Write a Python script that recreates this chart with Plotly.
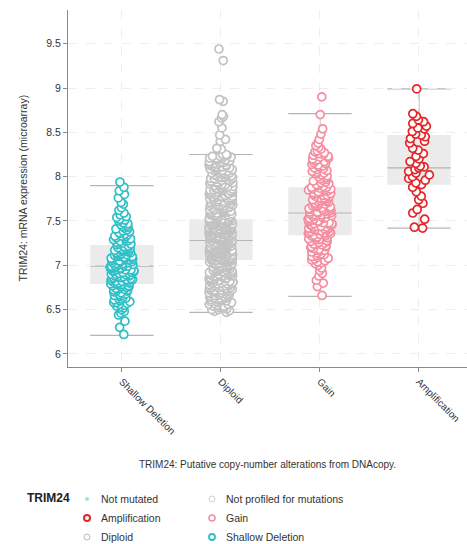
import plotly.graph_objects as go

categories = ["Shallow Deletion", "Diploid", "Gain", "Amplification"]
colors = ["#2EBFC6", "#C2C2C2", "#F48DA0", "#E3262A"]

# box statistics
q1 = [6.79, 7.06, 7.34, 7.91]
median = [6.99, 7.28, 7.59, 8.10]
q3 = [7.23, 7.52, 7.88, 8.47]
whisker_lo = [6.21, 6.47, 6.65, 7.42]
whisker_hi = [7.90, 8.25, 8.71, 8.99]

shallow_deletion = [
    6.22, 6.30, 6.37, 6.44, 6.46, 6.48, 6.50, 6.52, 6.53,
    6.54, 6.55, 6.56, 6.57, 6.58, 6.58, 6.59, 6.60, 6.61, 6.62, 6.62, 6.63, 6.64, 6.65, 6.66, 6.66, 6.67, 6.68,
    6.69, 6.70, 6.70, 6.71, 6.72, 6.72, 6.73, 6.74, 6.74, 6.75, 6.76, 6.76, 6.77, 6.77, 6.78, 6.78, 6.79, 6.79,
    6.80, 6.80, 6.81, 6.81, 6.82, 6.82, 6.83, 6.83, 6.84, 6.84, 6.85, 6.85, 6.86, 6.86, 6.87, 6.87, 6.88, 6.88,
    6.89, 6.89, 6.90, 6.90, 6.91, 6.91, 6.92, 6.92, 6.93, 6.93, 6.94, 6.94, 6.95, 6.95, 6.95, 6.96, 6.96, 6.97,
    6.97, 6.97, 6.98, 6.98, 6.98, 6.99, 6.99, 6.99, 6.99,
    7.00, 7.00, 7.01, 7.01, 7.02, 7.02, 7.03, 7.03, 7.04, 7.04, 7.05, 7.05, 7.06, 7.06, 7.07, 7.07, 7.08, 7.08,
    7.09, 7.09, 7.10, 7.10, 7.11, 7.11, 7.12, 7.12, 7.13, 7.13, 7.14, 7.14, 7.15, 7.15, 7.16, 7.16, 7.17, 7.17,
    7.18, 7.18, 7.19, 7.19, 7.20, 7.20, 7.21, 7.22, 7.23,
    7.24, 7.24, 7.25, 7.26, 7.27, 7.27, 7.28, 7.29, 7.30, 7.30, 7.31, 7.32, 7.33, 7.33, 7.34, 7.35, 7.36, 7.37,
    7.38, 7.39, 7.40, 7.41, 7.42, 7.43, 7.44, 7.45, 7.46, 7.47, 7.48, 7.50, 7.51, 7.52, 7.54, 7.55, 7.57, 7.59,
    7.62, 7.65, 7.69, 7.71, 7.76, 7.80, 7.84, 7.88, 7.94,
]

diploid = [
    6.47, 6.48, 6.49, 6.50, 6.50, 6.51, 6.52, 6.52, 6.53, 6.54, 6.54, 6.55, 6.56, 6.56, 6.57, 6.58, 6.58,
    6.59, 6.59, 6.60, 6.60,
    6.61, 6.61, 6.61, 6.62, 6.62, 6.63, 6.63, 6.63, 6.64, 6.64, 6.65, 6.65, 6.65, 6.66, 6.66, 6.67, 6.67,
    6.67, 6.68, 6.68, 6.69, 6.69, 6.69, 6.70, 6.70, 6.71, 6.71, 6.71, 6.72, 6.72, 6.73, 6.73, 6.73, 6.74,
    6.74, 6.75, 6.75, 6.75, 6.76, 6.76, 6.77, 6.77, 6.77, 6.78, 6.78, 6.79, 6.79, 6.79,
    6.80, 6.80, 6.80, 6.81, 6.81, 6.81, 6.82, 6.82, 6.82, 6.83, 6.83, 6.83, 6.84, 6.84, 6.84,
    6.85, 6.85, 6.85, 6.86, 6.86, 6.86, 6.87, 6.87, 6.87, 6.88, 6.88, 6.88, 6.89, 6.89, 6.89,
    6.90, 6.90, 6.90, 6.91, 6.91, 6.91, 6.92, 6.92, 6.92, 6.93, 6.93, 6.93, 6.94, 6.94, 6.94,
    6.95, 6.95, 6.95, 6.96, 6.96, 6.96, 6.97, 6.97, 6.97, 6.98, 6.98, 6.98, 6.99, 6.99, 6.99,
    7.00, 7.00, 7.00, 7.01, 7.01, 7.01, 7.02, 7.02, 7.02, 7.03, 7.03, 7.03, 7.04, 7.04, 7.04,
    7.05, 7.05, 7.05,
    7.06, 7.06, 7.06, 7.06, 7.06, 7.06, 7.07, 7.07, 7.07, 7.07, 7.07,
    7.08, 7.08, 7.08, 7.08, 7.08, 7.08, 7.09, 7.09, 7.09, 7.09, 7.09,
    7.10, 7.10, 7.10, 7.10, 7.10, 7.10, 7.11, 7.11, 7.11, 7.11, 7.11,
    7.12, 7.12, 7.12, 7.12, 7.12, 7.12, 7.13, 7.13, 7.13, 7.13, 7.13,
    7.14, 7.14, 7.14, 7.14, 7.14, 7.14, 7.15, 7.15, 7.15, 7.15, 7.15,
    7.16, 7.16, 7.16, 7.16, 7.16, 7.16, 7.17, 7.17, 7.17, 7.17, 7.17,
    7.18, 7.18, 7.18, 7.18, 7.18, 7.18, 7.19, 7.19, 7.19, 7.19, 7.19,
    7.20, 7.20, 7.20, 7.20, 7.20, 7.20, 7.21, 7.21, 7.21, 7.21, 7.21,
    7.22, 7.22, 7.22, 7.22, 7.22, 7.22, 7.23, 7.23, 7.23, 7.23, 7.23,
    7.24, 7.24, 7.24, 7.24, 7.24, 7.24, 7.25, 7.25, 7.25, 7.25, 7.25,
    7.26, 7.26, 7.26, 7.26, 7.26, 7.26, 7.27, 7.27, 7.27, 7.27, 7.27,
    7.28, 7.28, 7.28, 7.28, 7.28, 7.28,
    7.29, 7.29, 7.29, 7.29, 7.29, 7.30, 7.30, 7.30, 7.30, 7.30, 7.30,
    7.31, 7.31, 7.31, 7.31, 7.31, 7.32, 7.32, 7.32, 7.32, 7.32, 7.32,
    7.33, 7.33, 7.33, 7.33, 7.33, 7.34, 7.34, 7.34, 7.34, 7.34, 7.34,
    7.35, 7.35, 7.35, 7.35, 7.35, 7.36, 7.36, 7.36, 7.36, 7.36, 7.36,
    7.37, 7.37, 7.37, 7.37, 7.37, 7.38, 7.38, 7.38, 7.38, 7.38, 7.38,
    7.39, 7.39, 7.39, 7.39, 7.39, 7.40, 7.40, 7.40, 7.40, 7.40, 7.40,
    7.41, 7.41, 7.41, 7.41, 7.41, 7.42, 7.42, 7.42, 7.42, 7.42, 7.42,
    7.43, 7.43, 7.43, 7.43, 7.43, 7.44, 7.44, 7.44, 7.44, 7.44, 7.44,
    7.45, 7.45, 7.45, 7.45, 7.45, 7.46, 7.46, 7.46, 7.46, 7.46, 7.46,
    7.47, 7.47, 7.47, 7.47, 7.47, 7.48, 7.48, 7.48, 7.48, 7.48, 7.48,
    7.49, 7.49, 7.49, 7.49, 7.49, 7.50, 7.50, 7.50, 7.50, 7.50, 7.50,
    7.51, 7.51, 7.51, 7.51, 7.51, 7.52, 7.52, 7.52, 7.52, 7.52, 7.52,
    7.53, 7.53, 7.53, 7.54, 7.54, 7.55, 7.55, 7.55, 7.56, 7.56, 7.57, 7.57, 7.57, 7.58, 7.58, 7.59, 7.59,
    7.59, 7.60, 7.60, 7.61, 7.61, 7.61, 7.62, 7.62, 7.63, 7.63, 7.63, 7.64, 7.64, 7.65, 7.65, 7.65,
    7.66, 7.66, 7.67, 7.67, 7.67, 7.68, 7.68, 7.69, 7.69, 7.69, 7.70, 7.70, 7.71, 7.71, 7.71,
    7.72, 7.72, 7.73, 7.73, 7.73, 7.74, 7.74, 7.75, 7.75, 7.75, 7.76, 7.76, 7.77, 7.77, 7.77,
    7.78, 7.78, 7.79, 7.79, 7.79, 7.80, 7.80, 7.81, 7.81, 7.81, 7.82, 7.82, 7.83, 7.83, 7.83,
    7.84, 7.84, 7.85, 7.85, 7.85, 7.86, 7.86, 7.87, 7.87, 7.87, 7.88, 7.88, 7.89, 7.89, 7.90, 7.90,
    7.91, 7.91, 7.92, 7.92, 7.93, 7.93, 7.94, 7.94, 7.95, 7.95, 7.96, 7.96, 7.97, 7.97, 7.98, 7.98,
    7.99, 7.99, 8.00, 8.00, 8.01, 8.01, 8.02, 8.02, 8.03, 8.03, 8.04, 8.04, 8.05, 8.05, 8.06, 8.06,
    8.07, 8.07, 8.08, 8.08, 8.09, 8.09, 8.10, 8.10, 8.11, 8.11, 8.12, 8.12, 8.13, 8.13, 8.14, 8.14,
    8.15, 8.15, 8.16, 8.16, 8.17, 8.17, 8.18, 8.18, 8.19, 8.19, 8.20, 8.20, 8.21, 8.21, 8.22, 8.22,
    8.23, 8.23, 8.24, 8.24, 8.25, 8.25,
    8.31, 8.32, 8.40, 8.42, 8.47, 8.55, 8.62, 8.66, 8.68, 8.70, 8.85, 8.87, 9.31, 9.44,
]

gain = [
    6.66, 6.76, 6.80, 6.83, 6.88, 6.91, 6.94, 6.97, 7.00, 7.02,
    7.03, 7.04, 7.05, 7.06, 7.07, 7.08, 7.09, 7.10, 7.11, 7.12, 7.12, 7.13, 7.14, 7.15, 7.16, 7.17, 7.17, 7.18,
    7.19, 7.20, 7.21, 7.21, 7.22, 7.23, 7.24, 7.24, 7.25, 7.26, 7.27, 7.27, 7.28, 7.29, 7.29, 7.30, 7.31, 7.31,
    7.32, 7.33, 7.33, 7.34,
    7.35, 7.35, 7.36, 7.36, 7.37, 7.37, 7.38, 7.38, 7.39, 7.39, 7.40, 7.40, 7.41, 7.41, 7.42, 7.42, 7.43, 7.43,
    7.44, 7.44, 7.45, 7.45, 7.46, 7.46, 7.47, 7.47, 7.48, 7.48, 7.49, 7.49, 7.50, 7.50, 7.51, 7.51, 7.52, 7.52,
    7.53, 7.53, 7.54, 7.54, 7.55, 7.55, 7.56, 7.56, 7.57, 7.57, 7.58, 7.58, 7.59, 7.59,
    7.60, 7.60, 7.61, 7.61, 7.62, 7.63, 7.63, 7.64, 7.64, 7.65, 7.66, 7.66, 7.67, 7.67, 7.68, 7.69, 7.69, 7.70,
    7.70, 7.71, 7.72, 7.72, 7.73, 7.73, 7.74, 7.75, 7.75, 7.76, 7.76, 7.77, 7.78, 7.78, 7.79, 7.79, 7.80, 7.81,
    7.81, 7.82, 7.82, 7.83, 7.84, 7.84, 7.85, 7.85, 7.86, 7.86, 7.87, 7.87, 7.88, 7.88,
    7.89, 7.90, 7.91, 7.92, 7.93, 7.94, 7.95, 7.96, 7.97, 7.98, 7.99, 8.00, 8.01, 8.02, 8.03, 8.04, 8.05, 8.06,
    8.07, 8.08, 8.09, 8.10, 8.11, 8.12, 8.13, 8.14, 8.15, 8.16, 8.17, 8.18, 8.19, 8.20, 8.21, 8.22, 8.23, 8.24,
    8.25, 8.26, 8.27, 8.28,
    8.29, 8.31, 8.33, 8.35, 8.38, 8.42, 8.48, 8.54, 8.70, 8.90,
]

amplification = [
    8.99, 8.71, 8.68, 8.64, 8.62, 8.60, 8.57, 8.55, 8.54, 8.51, 8.48, 8.47, 8.45, 8.43, 8.40,
    8.38, 8.32, 8.30, 8.26, 8.23, 8.20, 8.17, 8.15, 8.12, 8.11, 8.10, 8.08, 8.06, 8.04, 8.02,
    8.00, 7.98, 7.96, 7.93, 7.91, 7.88, 7.83, 7.78, 7.74, 7.70, 7.63, 7.59, 7.52, 7.43, 7.42,
]

series = [shallow_deletion, diploid, gain, amplification]

y_ticks = [6, 6.5, 7, 7.5, 8, 8.5, 9, 9.5]
y_tick_text = ["6", "6.5", "7", "7.5", "8", "8.5", "9", "9.5"]

legend_title = "TRIM24"
legend_labels = ["Not mutated", "Amplification", "Diploid",
                 "Not profiled for mutations", "Gain", "Shallow Deletion"]

FONT = "Liberation Sans, Arial, sans-serif"
W, H = 467, 544
L, R, T, B = 68, 0, 10, 177
PW, PH = W - L - R, H - T - B
BOX_HW = 0.32
GRAY = "#B5B5B5"

fig = go.Figure()

shapes = []
for i in range(len(categories)):
    shapes.append(dict(type="line", xref="x", yref="y", x0=i, x1=i, y0=whisker_lo[i], y1=q1[i],
                       line=dict(color=GRAY, width=1.2), layer="below"))
    shapes.append(dict(type="line", xref="x", yref="y", x0=i, x1=i, y0=q3[i], y1=whisker_hi[i],
                       line=dict(color=GRAY, width=1.2), layer="below"))
    shapes.append(dict(type="rect", xref="x", yref="y", x0=i - BOX_HW, x1=i + BOX_HW, y0=q1[i], y1=q3[i],
                       fillcolor="#EBEBEB", line=dict(width=0), layer="below"))
    shapes.append(dict(type="line", xref="x", yref="y", x0=i - BOX_HW, x1=i + BOX_HW, y0=median[i], y1=median[i],
                       line=dict(color=GRAY, width=1.2), layer="below"))
    for v in (whisker_lo[i], whisker_hi[i]):
        shapes.append(dict(type="line", xref="x", yref="y", x0=i - BOX_HW, x1=i + BOX_HW, y0=v, y1=v,
                           line=dict(color=GRAY, width=1.2), layer="below"))

for i, (name, vals) in enumerate(zip(categories, series)):
    fig.add_trace(go.Box(
        y=vals, x0=i, name=name, boxpoints="all", jitter=0.38, pointpos=0, width=2 * BOX_HW,
        fillcolor="rgba(0,0,0,0)", line=dict(color="rgba(0,0,0,0)", width=0),
        marker=dict(size=8, color="white", line=dict(color=colors[i], width=1.7)),
        showlegend=False, hoverinfo="y",
    ))


def px(xp):
    return (xp - L) / PW


def py(yp):
    return (H - B - yp) / PH


annotations = [
    dict(text="TRIM24: Putative copy-number alterations from DNAcopy.", xref="paper", yref="paper",
         x=0.5, y=py(465), xanchor="center", yanchor="middle", showarrow=False,
         font=dict(family=FONT, size=10, color="#333333")),
    dict(text="TRIM24: mRNA expression (microarray)", xref="paper", yref="paper",
         x=px(22), y=0.5, xanchor="center", yanchor="middle", textangle=-90, showarrow=False,
         font=dict(family=FONT, size=10.5, color="#333333")),
    dict(text="<b>" + legend_title + "</b>", xref="paper", yref="paper", x=px(25), y=py(498),
         xanchor="left", yanchor="middle", showarrow=False,
         font=dict(family=FONT, size=12, color="#222222")),
]

legend_pos = [(87, 499), (87, 518), (87, 537), (212, 499), (212, 518), (212, 537)]
legend_marker = [
    dict(fill="#A8DDE2", line="#A8DDE2", w=0, r=2),
    dict(fill="white", line="#E3262A", w=2, r=3),
    dict(fill="white", line="#B8B8B8", w=1, r=3),
    dict(fill="white", line="#D0D0D0", w=1, r=3),
    dict(fill="white", line="#F48DA0", w=1.5, r=3),
    dict(fill="white", line="#2EBFC6", w=1.8, r=3),
]
for (lx, ly), lab, mk in zip(legend_pos, legend_labels, legend_marker):
    shapes.append(dict(type="circle", xref="paper", yref="paper", xsizemode="pixel", ysizemode="pixel",
                       xanchor=px(lx), yanchor=py(ly), x0=-mk["r"], x1=mk["r"], y0=-mk["r"], y1=mk["r"],
                       fillcolor=mk["fill"], line=dict(color=mk["line"], width=mk["w"])))
    annotations.append(dict(text=lab, xref="paper", yref="paper", x=px(lx + 12), y=py(ly),
                            xanchor="left", yanchor="middle", showarrow=False,
                            font=dict(family=FONT, size=10.5, color="#333333")))

fig.update_layout(
    width=W, height=H, margin=dict(l=L, r=R, t=T, b=B, autoexpand=False),
    paper_bgcolor="white", plot_bgcolor="white", boxmode="overlay",
    shapes=shapes, annotations=annotations, showlegend=False,
    xaxis=dict(range=[-0.545, 3.485], tickvals=list(range(len(categories))), ticktext=categories,
               tickangle=45, showline=True, linecolor="#8A8A8A", linewidth=1, ticks="outside",
               ticklen=4, tickcolor="#8A8A8A", showgrid=True, gridcolor="#EEEEEE", griddash="dash",
               zeroline=False, tickfont=dict(family=FONT, size=10, color="#333333")),
    yaxis=dict(range=[5.853, 9.88], tickvals=y_ticks, ticktext=y_tick_text, showline=True,
               linecolor="#8A8A8A", linewidth=1, ticks="outside", ticklen=4, tickcolor="#8A8A8A",
               showgrid=True, gridcolor="#EEEEEE", griddash="dash", zeroline=False,
               tickfont=dict(family=FONT, size=10.5, color="#333333")),
)

fig.write_html("out.html", config={"displayModeBar": False},
               post_script="document.body.style.margin='0px';document.body.style.overflow='hidden';")
